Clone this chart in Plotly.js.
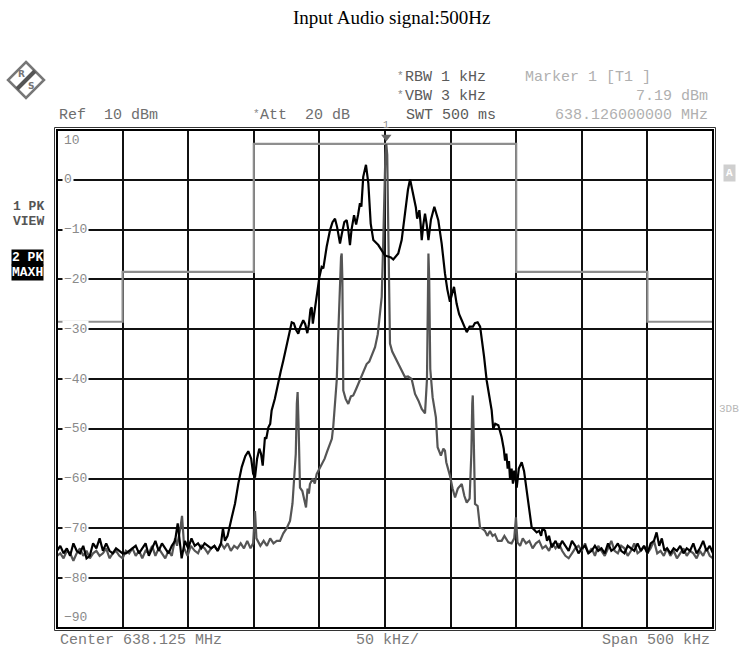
<!DOCTYPE html>
<html>
<head>
<meta charset="utf-8">
<script src="https://cdn.plot.ly/plotly-3.0.1.min.js"></script>
<style>
  html, body { margin: 0; padding: 0; background: #fff; }
  #chart { width: 743px; height: 655px; }
</style>
</head>
<body>
<div id="chart"></div>
<script>
// ---- Data: frequency offset from centre (kHz) and level (dBm) ----
const freqBlack = [
  -250,-247.5,-245,-242.5,-240,-237.5,-235,-232.5,-230,-227.5,
  -225,-222.5,-220,-217.5,-215,-212.5,-210,-207.5,-205,-202.5,
  -200,-197.5,-195,-192.5,-190,-187.5,-185,-182.5,-180,-177.5,
  -175,-172.5,-170,-167.5,-165,-162.5,-160,-158,-156.5,-155,
  -152.5,-150,-147.5,-145,-142.5,-140,-137.5,-135,-132.5,-130,
  -127.5,-125,-123.5,-122,-120,-117,-114.3,-111.8,-109.2,-106.5,
  -104.2,-102,-100.5,-99.1,-97.5,-95.8,-94.5,-93.2,-92.3,-91.5,
  -90.5,-88.9,-87.5,-86.4,-84,-81.3,-79.5,-77.5,-75.5,-73.7,
  -72.5,-71.1,-69.5,-68,-66.1,-64.5,-62.3,-60.8,-59.2,-58,
  -56.8,-55.9,-55,-54,-51.6,-50,-48.3,-47,-44.5,-41.9,
  -40,-38.1,-36.5,-35,-34.3,-33,-31,-29.2,-28,-26.7,
  -25.5,-23.6,-22,-20.5,-19.1,-18,-16.6,-14.5,-12.7,-10.9,
  -8.9,-5.1,-3,-1.3,0,2.5,4.5,6.3,8,10.1,
  12.7,15.2,17.5,19.1,20.5,22.4,23.5,24.5,26.2,27.2,
  28,29.2,30.5,31.8,33.1,35,37.6,40.6,43.2,45.7,
  47.5,49.5,51.5,52.6,54.6,56.5,58.5,60.5,62.3,64.5,
  67,68.5,70.6,72.5,73.7,75.5,77.5,79.5,81.3,82.5,
  84,86.4,88.9,90.5,91.5,92.5,93.5,94.5,95.3,96.5,
  97.5,98.5,100.4,102,104.2,106,108,110,111.8,113.5,
  115.6,117.5,119,120,122,123.5,125,127,130,132.5,
  135,137.5,140,142.5,145,147.5,150,152.5,155,157.5,
  160,162.5,165,167.5,170,172.5,175,177.5,180,182.5,
  185,187.5,190,192.5,195,197.5,200,202.5,205,207,
  209,211,213,215,217.5,220,222.5,225,227.5,230,
  232.5,235,237.5,240,242.5,245,247.5,250
];
const levelBlack = [
  -74.5,-73.5,-75,-74,-75.5,-73,-74.5,-75,-73.5,-76,
  -75.5,-73,-74,-72,-74.5,-73,-74.5,-75,-74,-74.5,
  -75,-75,-74.5,-74,-73.5,-75,-74,-73,-75.5,-74,
  -72.5,-74.5,-73,-74,-75,-73.5,-72.5,-69,-73,-76,
  -72.5,-74,-72,-73.5,-73,-74,-73,-73.5,-74,-73.5,
  -74.5,-73,-70,-72.5,-71.5,-68,-65,-61,-57.7,-55.5,
  -54.5,-56,-59,-59.8,-56,-54,-55,-57.4,-55,-51.7,
  -52,-49.7,-49,-46.3,-44,-40.3,-38.5,-36.3,-34,-31.6,
  -30,-28.6,-28.8,-30,-30.9,-29.5,-28.2,-29,-30.8,-29,
  -26,-25.6,-28.9,-27,-21.9,-19.5,-17.5,-17.8,-13.5,-10.1,
  -8.5,-7.8,-9.5,-12.5,-12.8,-11,-8.5,-8.1,-10,-13.1,
  -10,-7.1,-9,-7,-4.7,-5.4,0.6,3.0,-0.7,-8.8,
  -12.1,-13.1,-14,-14.8,-15.2,-15.4,-15.6,-16,-15.5,-14.8,
  -12.1,-6.8,-2,0.1,-1.5,-3.7,-5.5,-7.8,-6.1,-9,
  -12.1,-9,-6.8,-9,-12.1,-8,-5.4,-8.1,-12.8,-18.8,
  -22,-24.5,-22.5,-21.5,-24.9,-27,-28.2,-29.5,-30.6,-29.5,
  -29.5,-28.8,-28.6,-29.5,-31.6,-35.5,-40.3,-43.5,-46.3,-50,
  -49,-49.3,-51.7,-54,-56.4,-55,-58,-56.5,-60.1,-58,
  -61,-58.4,-61.8,-58,-56.7,-58.5,-62.4,-66,-69.8,-70.2,
  -70.8,-70.5,-71.5,-70,-70.5,-72.5,-71.5,-73.8,-72.5,-74,
  -72.5,-73.5,-74.5,-72.5,-73.5,-75,-74,-73.5,-75,-74.5,
  -73.5,-74.5,-74,-75,-73,-74.5,-74,-73,-74.5,-75,
  -73.5,-74,-74.5,-73,-74.5,-73.5,-75,-73,-72.5,-70.8,
  -73.5,-72,-74.5,-74,-75,-74,-74.5,-73.5,-75,-74,
  -74.5,-73,-75,-74,-72.5,-74.5,-73.5,-75
];

const freqGray = [
  -250,-247.5,-245,-242.5,-240,-237.5,-235,-232.5,-230,-227.5,
  -225,-222.5,-220,-217.5,-215,-212.5,-210,-207.5,-205,-202.5,
  -200,-197.5,-195,-192.5,-190,-187.5,-185,-182.5,-180,-177.5,
  -175,-172.5,-170,-167.5,-165,-162.5,-160,-158.5,-156,-154.7,
  -153,-150.5,-148,-145,-142.5,-140,-137.5,-135,-132.5,-130,
  -127.5,-125,-122.5,-120,-117.5,-115,-112.5,-110,-107.5,-105,
  -102.5,-100.5,-99.1,-98,-95,-92.5,-90,-87.5,-85,-82.5,
  -80,-77.5,-75,-72.4,-70.5,-69.4,-68,-67.2,-66.6,-65.8,
  -64.8,-63,-61.5,-60.2,-59,-58,-57.2,-55,-53.5,-52.1,
  -50,-48.3,-46,-44,-41.9,-40.5,-39.4,-38,-36.8,-35.5,
  -34.5,-33.5,-33,-32.5,-32,-31.8,-30,-28,-26,-24.2,
  -22,-20.5,-19.1,-17,-14,-12,-10,-7.6,-5.5,-3.8,
  -2.5,-1.5,-0.5,0.3,1,1.7,2.5,3,3.8,5.5,
  7.6,9.5,11.4,13,15.2,17.5,20.3,22.9,25.4,28,
  30.5,32,32.6,33.1,33.7,34.5,36.3,38.8,40.1,42.6,
  44.5,45.7,46.7,49.5,51.5,53.4,55.5,58.5,60.5,62.3,
  64.5,65.8,66.5,66.9,67.5,68.6,70.6,72.4,74,76.2,
  78,80,82,83.8,86,88.9,91,94,96.5,98.5,
  99.8,101,103,105,107.5,110,112.5,115,117.5,120,
  122.5,125,127.5,130,132.5,135,137.5,140,142.5,145,
  147.5,150,152.5,155,157.5,160,162.5,165,167.5,170,
  172.5,175,177.5,180,182.5,185,187.5,190,192.5,195,
  197.5,200,202.5,205,207.5,210,212.5,215,217.5,220,
  222.5,225,227.5,230,232.5,235,237.5,240,242.5,245,
  247.5,250
];
const levelGray = [
  -75.5,-75,-76,-74.5,-75,-76.5,-75,-74,-75.5,-74.5,
  -76,-75,-74.5,-75.5,-75,-74,-76,-75,-74.5,-75.5,
  -76,-74.5,-75,-74,-75.5,-74.5,-76,-74.5,-75,-73.5,
  -75.5,-74,-75,-76,-74.5,-75.5,-72,-73.5,-70,-67.5,
  -74,-75.5,-73.5,-74.5,-75,-73.5,-74,-75,-74,-73.5,
  -74.5,-73,-74,-73,-74.5,-73.5,-74,-73,-74,-72.5,
  -74,-73,-66.5,-72,-73.5,-72.5,-73.5,-72,-73,-72.5,
  -72.5,-71,-70,-68.5,-65,-60.4,-55,-45,-42.6,-50,
  -61.8,-62.5,-64,-65.8,-62,-63,-61.1,-60,-61,-59.1,
  -58,-57.1,-56,-54.5,-53,-52,-49.4,-45,-40.3,-30,
  -20,-15.5,-14.8,-20,-35,-42.3,-44,-45,-43.5,-43.3,
  -42,-41,-40.3,-39,-37,-36.5,-35,-33.6,-31,-26.2,
  -23.5,-14,-3,5,7.19,5,-10,-24,-32.9,-34.5,
  -35.6,-36.5,-37.6,-38.5,-39.6,-39.5,-40,-43,-44.3,-46,
  -46.9,-40,-20,-14.8,-20,-38,-43.7,-47.7,-53.7,-55.4,
  -54,-54.4,-56.7,-59.4,-62,-63.8,-62,-61.1,-63.5,-64.8,
  -64,-55,-45,-43.3,-50,-65.1,-65.5,-69.8,-70,-70.5,
  -71.5,-70.5,-71.5,-71.2,-72.5,-72.5,-71.5,-72.8,-73,-72,
  -67.8,-72.8,-73.5,-72,-73,-72.5,-74,-73,-72.5,-74,
  -73.5,-74.5,-73,-74,-73,-74.5,-75.5,-76,-75,-74,
  -73.5,-74.5,-73,-75,-74,-75.5,-73.5,-74.5,-75.5,-74,
  -72.5,-74.5,-75,-73.5,-74,-75.5,-74.5,-73,-75,-74.5,
  -73.5,-75,-74,-72.5,-75,-74.5,-75.5,-74,-75.5,-74.5,
  -76,-75,-74,-75.5,-74.5,-75,-76,-74.5,-75.5,-74,
  -75.5,-76
];

// Limit line (kHz, dBm)
const limitFreq  = [-250,-200,-200,-100,-100,100,100,200,200,250];
const limitLevel = [-28.5,-28.5,-18.5,-18.5,7.2,7.2,-18.5,-18.5,-28.5,-28.5];

// Marker 1
const markerFreq = [1];
const markerLevel = [8.6];

// Axis tick labels (dBm)
const yTickValues = [10, 0, -10, -20, -30, -40, -50, -60, -70, -80, -90];
const yTickText   = ['10', '0', '\u221210', '\u221220', '\u221230', '\u221240', '\u221250', '\u221260', '\u221270', '\u221280', '\u221290'];

// ---- Layout helpers (pixel -> paper) ----
const L = 57, R = 713, T = 130, B = 628;
const W = R - L, H = B - T;
const px = x => (x - L) / W;
const py = y => (B - y) / H;
const MONO = 'Liberation Mono, Courier New, monospace';

function ann(text, x, y, opts) {
  opts = opts || {};
  return Object.assign({
    text: text, xref: 'paper', yref: 'paper', x: px(x), y: py(y),
    xanchor: 'left', yanchor: 'middle', showarrow: false,
    font: { family: MONO, size: 15, color: '#6e6e6e' }
  }, opts);
}

const annotations = [
  // title
  { text: 'Input Audio signal:500Hz', xref: 'paper', yref: 'paper', x: px(392), y: py(17),
    xanchor: 'center', yanchor: 'middle', showarrow: false,
    font: { family: 'Liberation Serif, Times New Roman, serif', size: 19, color: '#000' } },
  // header
  ann('*', 395, 76, { font: { family: MONO, size: 11, color: '#888' } }),
  ann('RBW 1 kHz', 403, 77, { font: { family: MONO, size: 15, color: '#5a5a5a' } }),
  ann('Marker 1 [T1 ]', 523, 77, { font: { family: MONO, size: 15, color: '#b0b0b0' } }),
  ann('*', 395, 95, { font: { family: MONO, size: 11, color: '#888' } }),
  ann('VBW 3 kHz', 403, 96, { font: { family: MONO, size: 15, color: '#5a5a5a' } }),
  ann('7.19 dBm', 710, 96, { xanchor: 'right', font: { family: MONO, size: 15, color: '#b0b0b0' } }),
  ann('Ref  10 dBm', 57, 115, { font: { family: MONO, size: 15, color: '#6e6e6e' } }),
  ann('*', 251, 114, { font: { family: MONO, size: 11, color: '#888' } }),
  ann('Att  20 dB', 258, 115, { font: { family: MONO, size: 15, color: '#6e6e6e' } }),
  ann('SWT 500 ms', 404, 115, { font: { family: MONO, size: 15, color: '#5a5a5a' } }),
  ann('638.126000000 MHz', 710, 115, { xanchor: 'right', font: { family: MONO, size: 15, color: '#b0b0b0' } }),
  // footer
  ann('Center 638.125 MHz', 58, 640, { font: { family: MONO, size: 15, color: '#7a7a7a' } }),
  ann('50 kHz/', 354, 640, { font: { family: MONO, size: 15, color: '#7a7a7a' } }),
  ann('Span 500 kHz', 712, 640, { xanchor: 'right', font: { family: MONO, size: 15, color: '#7a7a7a' } }),
  // left trace labels
  ann('<b>1 PK</b>', 11, 206, { font: { family: MONO, size: 13, color: '#555' } }),
  ann('<b>VIEW</b>', 11, 221, { font: { family: MONO, size: 13, color: '#555' } }),
  ann('<b>2 PK</b>', 11, 257, { bgcolor: '#000', borderpad: 0, font: { family: MONO, size: 13, color: '#fff' } }),
  ann('<b>MAXH</b>', 11, 272, { bgcolor: '#000', borderpad: 0, font: { family: MONO, size: 13, color: '#fff' } }),
  // right side labels
  ann('<b>A</b>', 729, 173, { xanchor: 'center', bgcolor: '#cfcfcf', borderpad: 2, font: { family: MONO, size: 11, color: '#fff' } }),
  ann('3DB', 729, 409, { xanchor: 'center', font: { family: MONO, size: 11, color: '#b8b8b8' } }),
  // marker number
  ann('1', 386, 125, { xanchor: 'center', font: { family: MONO, size: 10, color: '#888' } }),
  // logo letters
  ann('<b>R</b>', 21, 74, { xanchor: 'center', font: { family: 'DejaVu Sans', size: 9, color: '#777' } }),
  ann('<b>S</b>', 31, 86, { xanchor: 'center', font: { family: 'DejaVu Sans', size: 9, color: '#777' } })
];

// y tick labels drawn inside the frame with white background
yTickValues.forEach((v, i) => {
  let yPix = T + (10 - v) / 100 * H;
  if (v === 10) yPix = T + 10;
  if (v === -90) yPix = B - 11;
  annotations.push(ann(yTickText[i], 62, yPix, {
    bgcolor: '#fff', borderpad: 1,
    font: { family: MONO, size: 13, color: '#8a8a8a' }
  }));
});

const shapes = [
  // double frame
  { type: 'rect', xref: 'paper', yref: 'paper', x0: 0, x1: 1, y0: 0, y1: 1,
    line: { color: '#000', width: 2 } },
  { type: 'rect', xref: 'paper', yref: 'paper', x0: px(L - 2.5), x1: px(R + 2.5), y0: py(B + 2.5), y1: py(T - 2.5),
    line: { color: '#333', width: 1 } },
  // logo diamond
  { type: 'path', xref: 'paper', yref: 'paper',
    path: `M ${px(26)} ${py(62)} L ${px(44)} ${py(80)} L ${px(26)} ${py(98)} L ${px(8)} ${py(80)} Z`,
    fillcolor: '#fff', line: { color: '#777', width: 2.5 } },
  { type: 'line', xref: 'paper', yref: 'paper', x0: px(17), y0: py(89), x1: px(35), y1: py(71),
    line: { color: '#555', width: 4 } }
];

const traces = [
  { x: limitFreq, y: limitLevel, type: 'scatter', mode: 'lines',
    line: { color: '#8e8e8e', width: 2.2 }, hoverinfo: 'skip' },
  { x: freqGray, y: levelGray, type: 'scatter', mode: 'lines',
    line: { color: '#555555', width: 2.2 }, name: '2 PK MAXH' },
  { x: freqBlack, y: levelBlack, type: 'scatter', mode: 'lines',
    line: { color: '#000000', width: 2.2 }, name: '1 PK VIEW' },
  { x: markerFreq, y: markerLevel, type: 'scatter', mode: 'markers', cliponaxis: false,
    marker: { symbol: 'triangle-down', size: 9, color: '#666' }, hoverinfo: 'skip' }
];

const layout = {
  width: 743, height: 655,
  margin: { l: L, r: 743 - R, t: T, b: 655 - B, pad: 0 },
  paper_bgcolor: '#fff', plot_bgcolor: '#fff',
  showlegend: false,
  xaxis: {
    range: [-250, 250], tick0: 0, dtick: 50, showticklabels: false,
    showgrid: true, gridcolor: '#111', gridwidth: 2, zeroline: false,
    showline: false, ticks: ''
  },
  yaxis: {
    range: [-90, 10], tick0: 0, dtick: 10, showticklabels: false,
    showgrid: true, gridcolor: '#111', gridwidth: 2, zeroline: false,
    showline: false, ticks: ''
  },
  annotations: annotations,
  shapes: shapes
};

Plotly.newPlot('chart', traces, layout, { staticPlot: true, displayModeBar: false });
</script>
</body>
</html>
